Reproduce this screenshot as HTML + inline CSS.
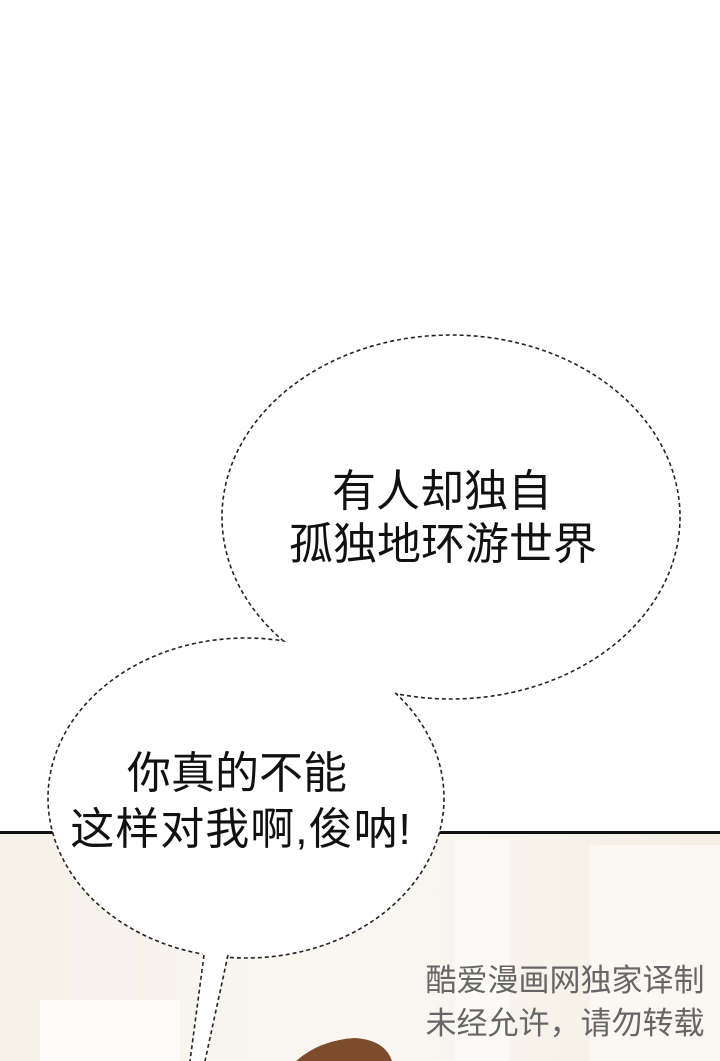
<!DOCTYPE html>
<html><head><meta charset="utf-8"><style>
html,body{margin:0;padding:0;width:720px;height:1061px;overflow:hidden;background:#fff}
</style></head><body>
<svg width="720" height="1061" viewBox="0 0 720 1061" xmlns="http://www.w3.org/2000/svg">
<defs>
<linearGradient id="bg" x1="0" y1="0" x2="1" y2="0">
<stop offset="0" stop-color="#f6f1e9"/><stop offset="0.5" stop-color="#faf7f2"/><stop offset="1" stop-color="#f4eee4"/>
</linearGradient>
</defs>
<rect x="0" y="833" width="720" height="228" fill="url(#bg)"/>
<rect x="455" y="840" width="55" height="221" fill="#fcfaf6"/>
<rect x="590" y="845" width="130" height="216" fill="#fbf8f3"/>
<rect x="40" y="1000" width="140" height="61" fill="#fdfbf8"/>
<rect x="0" y="831" width="720" height="3" fill="#111"/>
<path d="M296 1061 Q320 1040 355 1038 Q385 1040 392 1061 Z" fill="#7d4d2b"/>
<g fill="#fff" stroke="#222" stroke-width="1.6" stroke-dasharray="4 3">
<ellipse cx="451" cy="517" rx="229" ry="182"/>
<ellipse cx="246" cy="798" rx="198" ry="160"/>
</g>
<ellipse cx="451" cy="517" rx="228" ry="181" fill="#fff"/>
<path d="M203 950 L190 1061 L206 1061 L228 950 Z" fill="#fff"/>
<g stroke="#222" stroke-width="1.6" stroke-dasharray="4 3" fill="none">
<line x1="204" y1="955" x2="190" y2="1061"/>
<line x1="228" y1="955" x2="205" y2="1061"/>
</g>
<g font-family="'Liberation Sans','Noto Sans CJK SC',sans-serif" font-size="44" fill="#111" text-anchor="middle">
<text x="442" y="506">有人却独自</text>
<text x="443" y="559">孤独地环游世界</text>
<text x="237" y="788">你真的不能</text>
<text x="241" y="844" letter-spacing="1">这样对我啊,俊呐!</text>
</g>
<g font-family="'Liberation Sans','Noto Sans CJK SC',sans-serif" font-size="31" fill="#666" text-anchor="middle">
<text x="565" y="991">酷爱漫画网独家译制</text>
<text x="565" y="1034">未经允许，请勿转载</text>
</g>
</svg>
</body></html>
